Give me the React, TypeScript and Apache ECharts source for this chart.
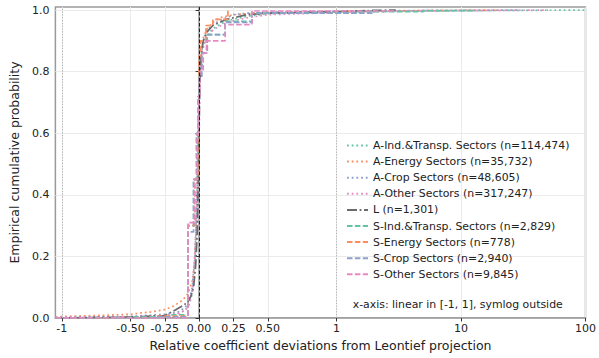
import React, { useEffect, useRef } from "react";
import * as echarts from "echarts";

// ---- data (original x units, ECDF y) ----
const seriesNames = [
  "A-Ind.&Transp. Sectors (n=114,474)",
  "A-Energy Sectors (n=35,732)",
  "A-Crop Sectors (n=48,605)",
  "A-Other Sectors (n=317,247)",
  "L (n=1,301)",
  "S-Ind.&Transp. Sectors (n=2,829)",
  "S-Energy Sectors (n=778)",
  "S-Crop Sectors (n=2,940)",
  "S-Other Sectors (n=9,845)",
];

const aInd: number[][] = [
  [-1.12, 0], [-1, 0.002], [-0.5, 0.004], [-0.25, 0.008], [-0.15, 0.015], [-0.1, 0.025],
  [-0.07, 0.045], [-0.05, 0.08], [-0.035, 0.15], [-0.025, 0.25], [-0.015, 0.4], [-0.007, 0.6],
  [0, 0.75], [0.01, 0.84], [0.025, 0.88], [0.05, 0.91], [0.1, 0.94], [0.2, 0.965], [0.35, 0.98],
  [0.5, 0.988], [1, 0.994], [3, 0.997], [10, 0.998], [30, 0.999], [100, 1.0],
];
const aEnergy: number[][] = [
  [-1.12, 0.003], [-1, 0.005], [-0.75, 0.008], [-0.5, 0.012], [-0.35, 0.02], [-0.25, 0.027],
  [-0.18, 0.04], [-0.12, 0.058], [-0.08, 0.08], [-0.05, 0.12], [-0.035, 0.18], [-0.02, 0.3],
  [-0.01, 0.5], [0, 0.72], [0.005, 0.83], [0.015, 0.88], [0.03, 0.91], [0.06, 0.94], [0.1, 0.96],
  [0.15, 0.975], [0.25, 0.985], [0.5, 0.993], [1, 0.996], [5, 0.999], [20, 1.0],
];
const aCrop: number[][] = [
  [-1.12, 0.001], [-1, 0.002], [-0.5, 0.005], [-0.25, 0.012], [-0.15, 0.02], [-0.1, 0.035],
  [-0.07, 0.06], [-0.05, 0.1], [-0.03, 0.2], [-0.015, 0.4], [-0.005, 0.6], [0, 0.7],
  [0.01, 0.82], [0.025, 0.89], [0.05, 0.93], [0.1, 0.955], [0.25, 0.985], [0.35, 0.99],
  [0.5, 0.993], [1, 0.996], [5, 0.998], [30, 1.0],
];
const aOther: number[][] = [
  [-1.12, 0.001], [-1, 0.002], [-0.5, 0.004], [-0.25, 0.008], [-0.15, 0.015], [-0.1, 0.025],
  [-0.07, 0.05], [-0.05, 0.09], [-0.035, 0.16], [-0.02, 0.3], [-0.01, 0.5], [0, 0.7],
  [0.01, 0.82], [0.025, 0.87], [0.05, 0.905], [0.1, 0.935], [0.2, 0.96], [0.35, 0.975],
  [0.5, 0.985], [1, 0.992], [3, 0.996], [10, 0.998], [50, 1.0],
];
const lAll: number[][] = [
  [-1.12, 0], [-0.5, 0.003], [-0.25, 0.008], [-0.17, 0.027], [-0.12, 0.04], [-0.085, 0.05],
  [-0.06, 0.07], [-0.04, 0.1], [-0.025, 0.17], [-0.015, 0.26], [-0.008, 0.4], [0, 0.6],
  [0.005, 0.75], [0.015, 0.85], [0.03, 0.9], [0.06, 0.93], [0.1, 0.95], [0.2, 0.97],
  [0.35, 0.985], [0.5, 0.99], [1, 0.995], [2, 0.999], [3, 1.0],
];
const sInd: number[][] = [
  [-1.12, 0], [-0.5, 0.004], [-0.2, 0.01], [-0.081, 0.3], [-0.04, 0.45], [-0.02, 0.6],
  [-0.008, 0.72], [0, 0.8], [0.02, 0.86], [0.055, 0.92], [0.19, 0.963], [0.385, 0.99],
  [1.5, 0.995], [5, 0.998], [12.7, 1.0],
];
const sEnergy: number[][] = [
  [-1.12, 0], [-0.3, 0.006], [-0.081, 0.3], [-0.03, 0.45], [-0.01, 0.6], [0, 0.85],
  [0.01, 0.9], [0.05, 0.95], [0.1, 0.97], [0.21, 1.0],
];
const sCrop: number[][] = [
  [-1.12, 0], [-0.3, 0.004], [-0.081, 0.28], [-0.04, 0.45], [-0.015, 0.6], [0, 0.78],
  [0.02, 0.86], [0.06, 0.92], [0.19, 0.96], [0.385, 0.99], [2, 1.0],
];
const sOther: number[][] = [
  [-1.12, 0], [-0.081, 0.31], [-0.035, 0.45], [-0.015, 0.6], [-0.005, 0.72], [0.005, 0.8],
  [0.03, 0.86], [0.055, 0.9], [0.19, 0.953], [0.385, 0.997], [3, 1.0],
];

const xTickValues = [-1, -0.5, -0.25, 0, 0.25, 0.5, 1, 10, 100];
const xTickLabels = ["-1", "-0.50", "-0.25", "0.00", "0.25", "0.50", "1", "10", "100"];
const yTickValues = [0, 0.2, 0.4, 0.6, 0.8, 1.0];

// symlog scale: linear in [-1,1], log10 outside
const K = 0.907;
const symlog = (x: number) =>
  Math.abs(x) <= 1 ? x : Math.sign(x) * (1 + K * Math.log10(Math.abs(x)));

const colors = ["#66c2a5", "#fc8d62", "#8da0cb", "#e78ac3"];
const DOT = [1.8, 2.9];
const DASH = [5.5, 2.4];
const DASHDOT = [10, 2.6, 1.8, 2.6];

export default function App() {
  const ref = useRef<HTMLDivElement>(null);
  useEffect(() => {
    if (!ref.current) return;
    document.body.style.margin = "0";
    const chart = echarts.init(ref.current, null, { renderer: "svg" });
    const font = "DejaVu Sans";
    const mk = (name: string, data: number[][], color: string, dash: number[], step: boolean) => ({
      type: "line",
      name,
      data: data.map(([x, y]) => [symlog(x), y]),
      step: step ? "end" : false,
      symbol: "none",
      lineStyle: { color, width: 1.7, type: dash },
      itemStyle: { color },
      emphasis: { disabled: true },
    });
    const series: any[] = [
      mk(seriesNames[0], aInd, colors[0], DOT, false),
      mk(seriesNames[1], aEnergy, colors[1], DOT, false),
      mk(seriesNames[2], aCrop, colors[2], DOT, false),
      mk(seriesNames[3], aOther, colors[3], DOT, false),
      mk(seriesNames[4], lAll, "#6b6b6b", DASHDOT, false),
      mk(seriesNames[5], sInd, colors[0], DASH, true),
      mk(seriesNames[6], sEnergy, colors[1], DASH, true),
      mk(seriesNames[7], sCrop, colors[2], DASH, true),
      mk(seriesNames[8], sOther, colors[3], DASH, true),
    ];
    series[0].markLine = {
      silent: true,
      symbol: "none",
      label: { show: false },
      animation: false,
      data: [
        { xAxis: symlog(-1), lineStyle: { color: "#b0b0b0", width: 1, type: [1.2, 1.6] } },
        { xAxis: symlog(1), lineStyle: { color: "#b0b0b0", width: 1, type: [1.2, 1.6] } },
        { xAxis: 0, lineStyle: { color: "#222", width: 1, type: [3.5, 2] } },
      ],
    };
    chart.setOption({
      animation: false,
      grid: {
        left: 51, top: 7, right: 9, bottom: 40,
        show: true, borderColor: "#9a9a9a", borderWidth: 1.5, backgroundColor: "#fff",
      },
      legend: {
        show: true,
        orient: "vertical",
        left: 341,
        top: 132.5,
        itemWidth: 21,
        itemHeight: 10,
        itemGap: 0.1,
        data: seriesNames,
        itemStyle: { opacity: 0 },
        textStyle: { fontFamily: font, fontSize: 10.9, color: "#222", lineHeight: 16, padding: [0, 0, 0, 0] },
      },
      xAxis: {
        type: "value",
        min: -1.0465,
        max: symlog(100),
        name: "Relative coefficient deviations from Leontief projection",
        nameLocation: "middle",
        nameGap: 19,
        nameTextStyle: { fontFamily: font, fontSize: 12.5, color: "#222" },
        axisLine: { show: true, onZero: false, lineStyle: { color: "#9a9a9a", width: 1.5 } },
        axisTick: {
          show: true, inside: false, length: 3.5,
          customValues: xTickValues.map(symlog),
          lineStyle: { color: "#333", width: 1 },
        },
        axisLabel: {
          customValues: xTickValues.map(symlog),
          formatter: (v: number) => {
            const i = xTickValues.findIndex((t) => Math.abs(symlog(t) - v) < 1e-6);
            return i >= 0 ? xTickLabels[i] : "";
          },
          fontFamily: font, fontSize: 11, color: "#222", margin: 5,
        },
        splitLine: { show: true, lineStyle: { color: "#ebebeb", width: 1 } },
      },
      yAxis: {
        type: "value",
        min: 0,
        max: 1.01,
        interval: 0.2,
        name: "Empirical cumulative probability",
        nameLocation: "middle",
        nameGap: 27,
        nameTextStyle: { fontFamily: font, fontSize: 12.5, color: "#222" },
        axisLine: { show: true, lineStyle: { color: "#9a9a9a", width: 1.5 } },
        axisTick: {
          show: true, length: 3.5, customValues: yTickValues,
          lineStyle: { color: "#333", width: 1 },
        },
        axisLabel: {
          customValues: yTickValues,
          formatter: (v: number) => v.toFixed(1),
          fontFamily: font, fontSize: 11, color: "#222", margin: 6,
        },
        splitLine: { show: true, lineStyle: { color: "#ebebeb", width: 1 } },
      },
      graphic: [
        {
          type: "text",
          left: 352.7,
          top: 298.5,
          z: 100,
          style: {
            text: "x-axis: linear in [-1, 1], symlog outside",
            fontFamily: font, fontSize: 10.9, fill: "#222",
          },
        },
      ],
      series,
    });
    return () => chart.dispose();
  }, []);
  return <div ref={ref} style={{ width: 599, height: 358 }} />;
}
